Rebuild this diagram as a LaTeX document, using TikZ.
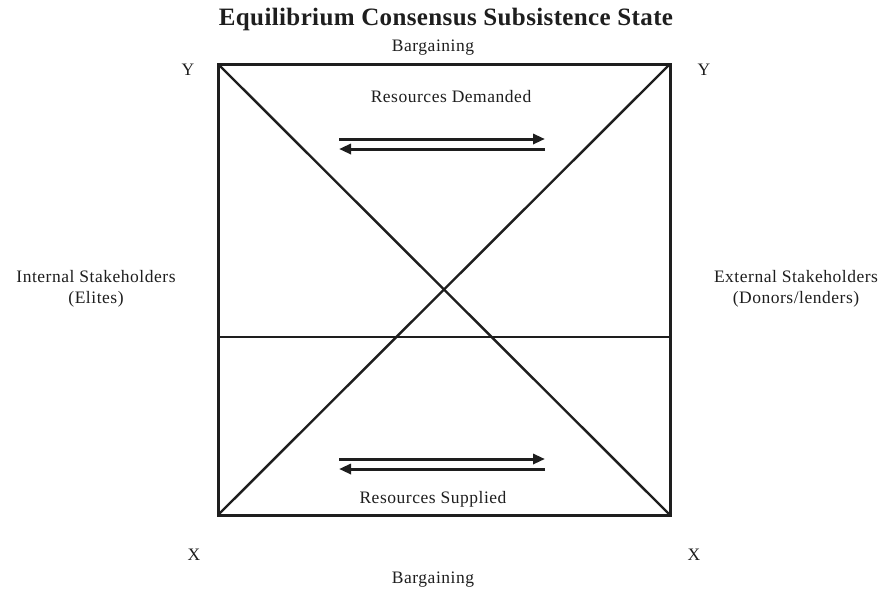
\documentclass[tikz,border=0pt]{standalone}
\usepackage{fontspec}
\setmainfont{Liberation Serif}[LetterSpace=3]
\newfontfamily\titlefont{Liberation Serif}[LetterSpace=1.5]
\usetikzlibrary{arrows.meta}
\definecolor{ink}{HTML}{1E1E1E}
\tikzset{
  lbl/.style={inner sep=0pt, text=ink, font=\fontsize{17.5}{21}\selectfont, align=center},
  ttl/.style={inner sep=0pt, text=ink, font=\titlefont\bfseries\fontsize{25}{28}\selectfont},
  frame/.style={draw=ink, line width=3pt},
  diag/.style={draw=ink, line width=2.4pt},
  flow/.style={draw=ink, line width=3pt, -{Triangle[length=12pt,width=10pt]}}
}
\begin{document}
\begin{tikzpicture}[x=1pt,y=-1pt]
\useasboundingbox (0,0) rectangle (882,590);
\fill[white] (0,0) rectangle (882,590);
\coordinate (tl) at (218,64);
\coordinate (tr) at (670,64);
\coordinate (bl) at (218,515);
\coordinate (br) at (670,515);
\coordinate (ml) at (218,337);
\coordinate (mr) at (670,337);
\draw[diag] (tl) -- (br);
\draw[diag] (tr) -- (bl);
\draw[diag] (ml) -- (mr);
\draw[frame] (tl) rectangle (br);
\node[ttl] (title) at (446,19) {Equilibrium Consensus Subsistence State};
\node[lbl] (btop) at (433,48) {Bargaining};
\node[lbl] (bbot) at (433,580) {Bargaining};
\node[lbl] (ytl) at (188,70) {Y};
\node[lbl] (ytr) at (704,70) {Y};
\node[lbl] (xbl) at (194,555) {X};
\node[lbl] (xbr) at (694,555) {X};
\node[lbl] (int) at (96,289) {Internal Stakeholders\\(Elites)};
\node[lbl] (ext) at (796,289) {External Stakeholders\\(Donors/lenders)};
\node[lbl] (rd) at (451,97) {Resources Demanded};
\node[lbl] (rs) at (433,499) {Resources Supplied};
\coordinate (a1s) at (339,139); \coordinate (a1e) at (545,139);
\coordinate (a2s) at (545,149); \coordinate (a2e) at (339,149);
\coordinate (a3s) at (339,459); \coordinate (a3e) at (545,459);
\coordinate (a4s) at (545,469); \coordinate (a4e) at (339,469);
\draw[flow] (a1s) -- (a1e);
\draw[flow] (a2s) -- (a2e);
\draw[flow] (a3s) -- (a3e);
\draw[flow] (a4s) -- (a4e);
\end{tikzpicture}
\end{document}
